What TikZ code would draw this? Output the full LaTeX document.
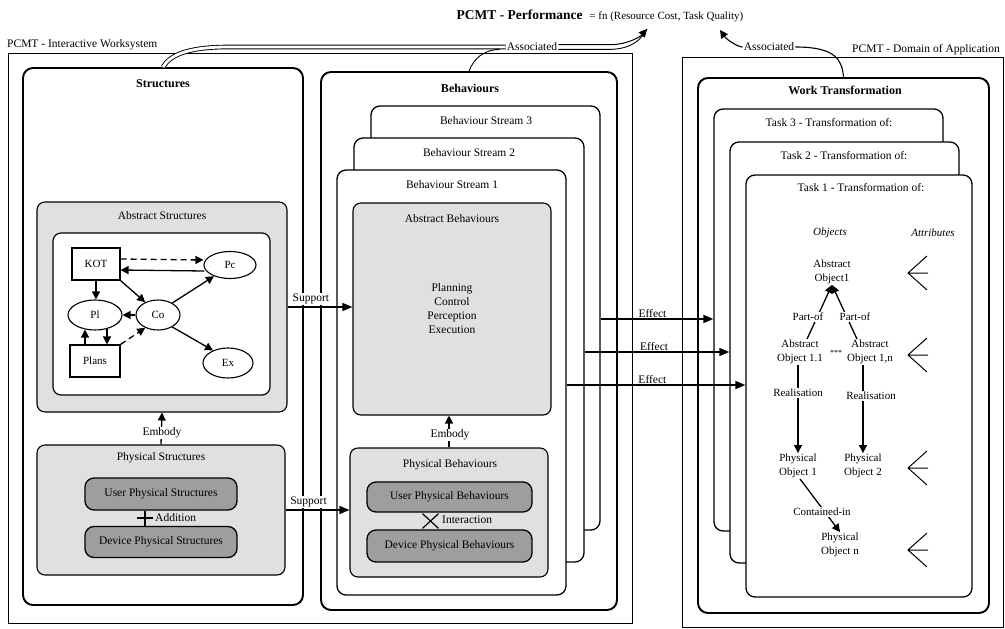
\documentclass[tikz,border=0pt]{standalone}
\usepackage{fontspec}
\setmainfont{Liberation Serif}
\usetikzlibrary{fit,calc,arrows.meta,shapes.geometric}

\tikzset{
  attrmark/.pic={\draw[line width=1pt] (19,-17) -- (0,0) -- (19,17) (0,0) -- (20,0);}
}

\begin{document}
\begin{tikzpicture}[x=1pt,y=-1pt,
  frame/.style={draw, line width=1pt, inner sep=0pt},
  heavy/.style={draw, line width=1.9pt, rounded corners=10pt, inner sep=0pt},
  sheet/.style={draw, fill=white, line width=1.3pt, rounded corners=9pt, inner sep=0pt},
  shaded/.style={draw, fill=black!12, line width=1.1pt, rounded corners=8pt, inner sep=0pt},
  darkbox/.style={draw, fill=black!38, line width=1.3pt, rounded corners=9pt, inner sep=0pt,
                  font=\fontsize{11.5}{13}\selectfont},
  plainbox/.style={draw, fill=white, line width=1.2pt, rounded corners=8pt, inner sep=0pt},
  txt/.style={font=\fontsize{11.5}{13}\selectfont, inner sep=1pt},
  ttl/.style={font=\fontsize{12}{14}\selectfont\bfseries, inner sep=1pt},
  obj/.style={font=\fontsize{11}{13.5}\selectfont, align=center, inner sep=1pt},
  entity/.style={draw, line width=1.1pt, font=\fontsize{11}{13}\selectfont, inner sep=1pt},
  tip/.style={-{Triangle[length=8pt,width=8pt]}, line width=1.3pt},
  longdash/.style={dash pattern=on 6pt off 4pt},
  bigtip/.style={-{Triangle[length=10pt,width=8pt]}, line width=1.5pt},
  link/.style={line width=0.9pt},
]
\useasboundingbox (0,0) rectangle (1005,629);

% ---------- performance heading ----------
\node[inner sep=1pt] (perf) at (600,16)
  {\fontsize{13.5}{15}\selectfont\bfseries PCMT - Performance\ \ \fontsize{11}{13}\selectfont\mdseries = fn (Resource Cost, Task Quality)};
\coordinate (tipL) at (647,29);
\coordinate (tipR) at (720,30);

% ---------- outer frames ----------
\node[frame, fit={(8,53) (632,623)}] (iws) {};
\node[txt, anchor=south west] (iwsL) at (6,51) {PCMT - Interactive Worksystem};
\node[frame, fit={(682,57) (1003,627)}] (dom) {};
\node[txt, anchor=south east] (domL) at (1001,56) {PCMT - Domain of Application};

% ---------- structures ----------
\node[heavy, fit={(23,68) (303,605)}] (struct) {};
\node[ttl] (structT) at (163,84) {Structures};

\node[shaded, fit={(37,202) (287,412)}] (absS) {};
\node[txt] (absST) at (162,216) {Abstract Structures};
\node[plainbox, fit={(53,233) (270,395)}] (inS) {};

\node[entity, minimum width=48, minimum height=32] (KOT) at (96,264) {KOT};
\node[entity, ellipse, minimum width=52, minimum height=27] (Pc) at (230,265) {Pc};
\node[entity, ellipse, minimum width=54, minimum height=30] (Pl) at (95,315) {Pl};
\node[entity, ellipse, minimum width=44, minimum height=30] (Co) at (158,315) {Co};
\node[entity, minimum width=50, minimum height=32] (Plans) at (95,361) {Plans};
\node[entity, ellipse, minimum width=50, minimum height=30] (Ex) at (228,363) {Ex};

\draw[tip, longdash] ($(KOT.east)+(0,-5)$) -- ($(Pc.west)+(0,-5)$);
\draw[tip] ($(Pc.west)+(1,6)$) -- ($(KOT.east)+(0,6)$);
\draw[tip] (KOT.south east) -- (Co.135);
\draw[tip] (KOT.south) -- (KOT.south |- Pl.north);
\draw[tip] (Co.west) -- (Pl.east);
\draw[tip] ($(Pl.south)+(12,-2)$) -- ($(Plans.north)+(12,0)$);
\draw[tip] ($(Plans.north)+(-10,0)$) -- ($(Pl.south)+(-10,-1)$);
\draw[tip, longdash] (Plans.north east) -- (Co.225);
\draw[tip] (Co.40) -- (Pc.215);
\draw[tip] (Co.-40) -- (Ex.140);

\node[shaded, fit={(37,445) (285,575)}] (physS) {};
\node[txt] (physST) at (161,458) {Physical Structures};
\node[darkbox, minimum width=152, minimum height=32] (usrS) at (161,494) {User Physical Structures};
\node[darkbox, minimum width=152, minimum height=31] (devS) at (161,542) {Device Physical Structures};
\draw[link, line width=1.2pt] ($(usrS.south)+(-16,0)$) -- ($(devS.north)+(-16,0)$);
\draw[link, line width=1.2pt] (137,518) -- (153,518);
\node[txt, anchor=west] (addL) at (154,518) {Addition};

\draw[tip] (physS.north) -- (absS.south);
\node[txt, fill=white] (embS) at (162,433) {Embody};

% ---------- behaviours ----------
\node[heavy, fit={(321,72) (617,610)}] (beh) {};
\node[ttl] (behT) at (470,88) {Behaviours};
\node[sheet, fit={(371,106) (600,530)}] (s3) {};
\node[txt] (s3T) at (486,121) {Behaviour Stream 3};
\node[sheet, fit={(354,138) (584,562)}] (s2) {};
\node[txt] (s2T) at (469,153) {Behaviour Stream 2};
\node[sheet, fit={(337,170) (566,595)}] (s1) {};
\node[txt] (s1T) at (452,185) {Behaviour Stream 1};

\node[shaded, fit={(353,203) (551,415)}] (absB) {};
\node[txt] (absBT) at (452,219) {Abstract Behaviours};
\node[txt, align=center, font=\fontsize{11.5}{14}\selectfont] (modes) at (452,309)
  {Planning\\Control\\Perception\\Execution};

\node[shaded, fit={(350,448) (548,577)}] (physB) {};
\node[txt] (physBT) at (450,465) {Physical Behaviours};
\node[darkbox, minimum width=165, minimum height=30] (usrB) at (449.5,497) {User Physical Behaviours};
\node[darkbox, minimum width=165, minimum height=32] (devB) at (449.5,546) {Device Physical Behaviours};
\draw[link, line width=1.2pt] ($(usrB.south)+(-27,1)$) -- ($(devB.north)+(-11,-1)$);
\draw[link, line width=1.2pt] ($(usrB.south)+(-11,1)$) -- ($(devB.north)+(-27,-1)$);
\node[txt, anchor=west] (interL) at (441,520) {Interaction};

\draw[tip] (physB.north) -- (physB.north |- absB.south);
\node[txt, fill=white] (embB) at (450,435) {Embody};

% ---------- support ----------
\draw[bigtip, line width=1.3pt] (absS.east) -- node[txt, fill=white, above=1pt, pos=0.36] (supA) {Support} (absB.west |- absS.east);
\draw[bigtip, line width=1.3pt] (physS.east) -- node[txt, fill=white, above=1pt, pos=0.36] (supP) {Support} (physB.west |- physS.east);

% ---------- work transformation ----------
\node[heavy, fit={(698,78) (989,613)}] (wt) {};
\node[ttl] (wtT) at (845,90) {Work Transformation};
\node[sheet, fit={(714,109) (943,531)}] (t3) {};
\node[txt] (t3T) at (829,123) {Task 3 - Transformation of:};
\node[sheet, fit={(730,142) (959,563)}] (t2) {};
\node[txt] (t2T) at (844,156) {Task 2 - Transformation of:};
\node[sheet, fit={(746,175) (972,597)}] (t1) {};
\node[txt] (t1T) at (861,188) {Task 1 - Transformation of:};

\node[obj, font=\fontsize{11}{13}\selectfont\itshape] (objH) at (830,233) {Objects};
\node[obj, font=\fontsize{11}{13}\selectfont\itshape] (attH) at (933,233) {Attributes};
\node[obj] (ao1) at (832,272) {Abstract\\Object1};
\node[obj] (ao11) at (800,352) {Abstract\\Object 1.1};
\node[obj] (ao1n) at (870,352) {Abstract\\Object 1,n};
\node[font=\fontsize{8}{9}\selectfont, inner sep=0pt] (more) at (836,353) {***};
\node[obj] (po1) at (798,466) {Physical\\Object 1};
\node[obj] (po2) at (863,466) {Physical\\Object 2};
\node[obj] (pon) at (840,545) {Physical\\Object n};

\draw[tip] ($(ao11.north)+(7,0)$) -- (ao1.south);
\draw[tip] ($(ao1n.north)+(-13,0)$) -- (ao1.south);
\node[obj, fill=white] (pof1) at (808,317) {Part-of};
\node[obj, fill=white] (pof2) at (855,317) {Part-of};

\draw[tip] (po1.north |- ao11.south) -- (po1.north);
\node[obj, fill=white] (real1) at (798,393) {Realisation};
\draw[tip] (po2.north |- ao1n.south) -- (po2.north);
\node[obj, fill=white] (real2) at (871,396) {Realisation};

\draw[tip] ($(po1.south)+(2,0)$) -- (pon.north);
\node[obj, fill=white] (cont) at (822,512) {Contained-in};

\pic at (908,273) {attrmark};
\pic at (908,355) {attrmark};
\pic at (908,468) {attrmark};
\pic at (908,550) {attrmark};

% ---------- effect ----------
\coordinate (e1) at (0,319);
\coordinate (e2) at (0,352);
\coordinate (e3) at (0,385);
\draw[bigtip] (s3.east |- e1) -- node[txt, above, pos=0.46] (ef1) {Effect} (t3.west |- e1);
\draw[bigtip] (s2.east |- e2) -- node[txt, above, pos=0.48] (ef2) {Effect} (t2.west |- e2);
\draw[bigtip] (s1.east |- e3) -- node[txt, above, pos=0.48] (ef3) {Effect} (t1.west |- e3);

% ---------- associated ----------
\node[txt] (assocL) at (532,47) {Associated};
\draw[link, double, double distance=2.8pt] (struct.north) .. controls (170,55) and (188,47) .. (228,47) -- (assocL.west);
\draw[link] (beh.north) .. controls (474,58) and (484,50) .. ($(assocL.west)+(-6,2.3)$);
\draw[tip, line width=1pt] ($(assocL.east)+(0,-2.3)$) -- (612,44.7) .. controls (628,44) and (640,37) .. (tipL);
\draw[link] ($(assocL.east)+(0,2.3)$) -- (612,49.3) .. controls (632,48.5) and (642,39) .. (tipL);

\node[txt] (assocR) at (769,47) {Associated};
\draw[link, line width=1.1pt] (wt.north) .. controls (842,60) and (836,47) .. (assocR.east);
\draw[tip, line width=1.1pt] (assocR.west) .. controls (738,47) and (727,40) .. (tipR);

\end{tikzpicture}
\end{document}
